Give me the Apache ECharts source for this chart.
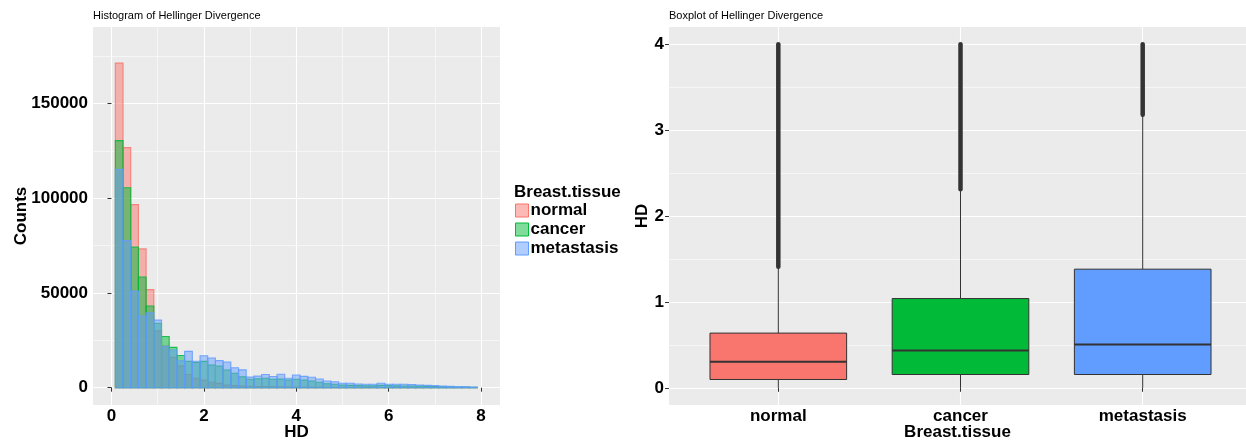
<!DOCTYPE html>
<html><head><meta charset="utf-8">
<script src="https://cdn.jsdelivr.net/npm/echarts@6/dist/echarts.min.js"></script>
<style>html,body{margin:0;padding:0;background:#fff}#c{width:1246px;height:440px}</style>
</head><body><div id="c"></div>
<script>
const histTitle = 'Histogram of Hellinger Divergence';
const boxTitle = 'Boxplot of Hellinger Divergence';
const legendTitle = 'Breast.tissue';
const groups = ['normal', 'cancer', 'metastasis'];
const groupColors = ['#F8766D', '#00BA38', '#619CFF'];

const binWidth = 1 / 6;
const binCenters = [0.1667, 0.3333, 0.5, 0.6667, 0.8333, 1, 1.1667, 1.3333, 1.5, 1.6667,
  1.8333, 2, 2.1667, 2.3333, 2.5, 2.6667, 2.8333, 3, 3.1667, 3.3333,
  3.5, 3.6667, 3.8333, 4, 4.1667, 4.3333, 4.5, 4.6667, 4.8333, 5,
  5.1667, 5.3333, 5.5, 5.6667, 5.8333, 6, 6.1667, 6.3333, 6.5, 6.6667,
  6.8333, 7, 7.1667, 7.3333, 7.5, 7.6667, 7.8333];

const normalCounts = [171400, 126800, 96700, 73300, 51800, 30000, 22000, 16000, 11500, 7000,
  5000, 4000, 2900, 2300, 1400, 1100, 900, 750, 650, 550,
  500, 450, 400, 350, 300, 280, 250, 220, 200, 180,
  160, 150, 140, 130, 120, 110, 100, 90, 80, 70,
  60, 50, 45, 40, 35, 30, 25];
const cancerCounts = [130500, 105600, 74300, 58500, 43150, 34000, 27000, 21300, 17000, 14000,
  13300, 13900, 12000, 11460, 9350, 7600, 5800, 4440, 4700, 5000,
  4440, 4600, 4070, 4440, 4070, 3540, 2850, 2110, 1800, 1430,
  1250, 1070, 950, 950, 1250, 1070, 950, 900, 900, 850,
  700, 600, 500, 400, 350, 300, 200];
const metastasisCounts = [115400, 77700, 51100, 37900, 39500, 35700, 21900, 19900, 14200, 19200,
  14000, 16900, 15700, 14300, 13600, 10560, 9400, 5600, 6100, 6950,
  5900, 7080, 4960, 6700, 6000, 5490, 4600, 3540, 3170, 2320,
  2320, 1950, 1800, 1800, 2320, 1800, 1800, 1800, 1600, 1430,
  1250, 1070, 900, 700, 530, 530, 350];
const histCounts = [normalCounts, cancerCounts, metastasisCounts];

const histXTicks = [0, 2, 4, 6, 8];
const histXMinor = [1, 3, 5, 7];
const histYTicks = [0, 50000, 100000, 150000];
const histYMinor = [25000, 75000, 125000, 175000];

const boxPositions = [1, 2, 3];
const boxLower = [0, 0, 0];
const boxQ1 = [0.097, 0.155, 0.155];
const boxMedian = [0.303, 0.435, 0.505];
const boxQ3 = [0.637, 1.039, 1.381];
const boxUpper = [1.40, 2.30, 3.17];
const outlierMin = [1.41, 2.31, 3.18];
const outlierMax = [4.0, 4.0, 4.0];
const boxYTicks = [0, 1, 2, 3, 4];
const boxYMinor = [0.5, 1.5, 2.5, 3.5];

function hexA(hex, a) {
  const n = parseInt(hex.slice(1), 16);
  return 'rgba(' + (n >> 16 & 255) + ',' + (n >> 8 & 255) + ',' + (n & 255) + ',' + a + ')';
}

const FONT = 'Liberation Sans, Arial, sans-serif';
const bold17 = { fontFamily: FONT, fontSize: 17, fontWeight: 'bold', color: '#000' };
const GRID_BG = '#EBEBEB';

function majorAxis(extra) {
  return Object.assign({
    type: 'value',
    axisLine: { show: false },
    splitLine: { show: true, lineStyle: { color: '#fff', width: 1.1 } },
    nameLocation: 'middle',
    nameMoveOverlap: false,
    nameTextStyle: bold17
  }, extra);
}
function minorAxis(extra) {
  return Object.assign({
    type: 'value',
    axisLine: { show: false },
    splitLine: { show: true, lineStyle: { color: '#fff', width: 0.55 } }
  }, extra);
}

const histSeries = groups.map((g, gi) => ({
  type: 'custom',
  name: g,
  xAxisIndex: 0,
  yAxisIndex: 0,
  silent: true,
  encode: { x: [0, 1], y: 2 },
  data: binCenters.map((c, i) => [c - binWidth / 2, c + binWidth / 2, histCounts[gi][i]]),
  renderItem: function (params, api) {
    const p0 = api.coord([api.value(0), api.value(2)]);
    const p1 = api.coord([api.value(1), 0]);
    return {
      type: 'rect',
      shape: { x: p0[0], y: p0[1], width: p1[0] - p0[0], height: p1[1] - p0[1] },
      style: { fill: hexA(groupColors[gi], 0.5), stroke: hexA(groupColors[gi], 0.85), lineWidth: 1.1 }
    };
  }
}));

const boxSeries = {
  type: 'custom',
  name: 'box',
  xAxisIndex: 2,
  yAxisIndex: 2,
  silent: true,
  encode: { x: 0, y: [1, 2, 3, 4, 5, 6, 7] },
  data: boxPositions.map((p, i) => [p, boxLower[i], boxQ1[i], boxMedian[i], boxQ3[i], boxUpper[i], outlierMin[i], outlierMax[i], i]),
  renderItem: function (params, api) {
    const x = api.value(0);
    const gi = api.value(8);
    const half = api.size([1, 0])[0] * 0.375;
    const c = api.coord([x, 0])[0];
    const y = k => api.coord([x, api.value(k)])[1];
    const yl = y(1), yq1 = y(2), ym = y(3), yq3 = y(4), yu = y(5), yo0 = y(6), yo1 = y(7);
    const dark = '#333333';
    return {
      type: 'group',
      children: [
        { type: 'line', shape: { x1: c, y1: yl, x2: c, y2: yq1 }, style: { stroke: dark, lineWidth: 1 } },
        { type: 'line', shape: { x1: c, y1: yq3, x2: c, y2: yu }, style: { stroke: dark, lineWidth: 1 } },
        { type: 'line', shape: { x1: c, y1: yo0, x2: c, y2: yo1 }, style: { stroke: dark, lineWidth: 4.5, lineCap: 'round' } },
        { type: 'rect', shape: { x: c - half, y: yq3, width: 2 * half, height: yq1 - yq3 }, style: { fill: groupColors[gi], stroke: dark, lineWidth: 1 } },
        { type: 'line', shape: { x1: c - half, y1: ym, x2: c + half, y2: ym }, style: { stroke: dark, lineWidth: 2 } }
      ]
    };
  }
};

function majorTick(vals) { return { show: true, length: 4, lineStyle: { color: '#333', width: 1 }, customValues: vals }; }
function majorLabel(vals, margin, fmt) { return Object.assign({ margin: margin, customValues: vals, formatter: fmt || (v => String(v)) }, bold17); }
function hiddenTick(vals) { return { show: false, customValues: vals }; }
function hiddenLabel(vals) { return { show: false, customValues: vals }; }

const option = {
  animation: false,
  backgroundColor: '#fff',
  title: [
    { text: histTitle, left: 93, top: 10, padding: 0, textStyle: { fontFamily: FONT, fontSize: 11, fontWeight: 'normal', color: '#000' } },
    { text: boxTitle, left: 669, top: 10, padding: 0, textStyle: { fontFamily: FONT, fontSize: 11, fontWeight: 'normal', color: '#000' } },
    { text: legendTitle, left: 514, top: 184, padding: 0, textStyle: bold17 }
  ],
  legend: {
    orient: 'vertical',
    left: 515,
    top: 202,
    padding: 0,
    itemWidth: 13,
    itemHeight: 13,
    itemGap: 2,
    selectedMode: false,
    textStyle: Object.assign({ lineHeight: 15, padding: [0, 0, 0, -3] }, bold17),
    data: groups.map((g, i) => ({ name: g, icon: 'rect', itemStyle: { color: hexA(groupColors[i], 0.5), borderColor: groupColors[i], borderWidth: 1 } }))
  },
  grid: [
    { left: 93, top: 27, width: 407, height: 378, show: true, backgroundColor: GRID_BG, borderWidth: 0, containLabel: false, outerBoundsMode: 'none' },
    { left: 669, top: 27, width: 577, height: 378, show: true, backgroundColor: GRID_BG, borderWidth: 0, containLabel: false, outerBoundsMode: 'none' }
  ],
  xAxis: [
    majorAxis({ gridIndex: 0, min: -0.4, max: 8.41, position: 'bottom', name: 'HD', nameGap: 19,
      axisTick: majorTick(histXTicks), axisLabel: majorLabel(histXTicks, 3) }),
    minorAxis({ gridIndex: 0, min: -0.4, max: 8.41, position: 'top',
      axisTick: hiddenTick(histXMinor), axisLabel: hiddenLabel(histXMinor) }),
    majorAxis({ gridIndex: 1, min: 0.4, max: 3.567, position: 'bottom', name: 'Breast.tissue', nameGap: 19,
      axisTick: majorTick(boxPositions), axisLabel: majorLabel(boxPositions, 3, v => groups[Math.round(v) - 1]) })
  ],
  yAxis: [
    majorAxis({ gridIndex: 0, min: -9140, max: 190500, position: 'left', name: 'Counts', nameGap: 63,
      axisTick: majorTick(histYTicks), axisLabel: majorLabel(histYTicks, 5) }),
    minorAxis({ gridIndex: 0, min: -9140, max: 190500, position: 'right',
      axisTick: hiddenTick(histYMinor), axisLabel: hiddenLabel(histYMinor) }),
    majorAxis({ gridIndex: 1, min: -0.2, max: 4.2, position: 'left', name: 'HD', nameGap: 18,
      axisTick: majorTick(boxYTicks), axisLabel: majorLabel(boxYTicks, 5) }),
    minorAxis({ gridIndex: 1, min: -0.2, max: 4.2, position: 'right',
      axisTick: hiddenTick(boxYMinor), axisLabel: hiddenLabel(boxYMinor) })
  ],
  series: histSeries.concat([boxSeries])
};

const chart = echarts.init(document.getElementById('c'), null, { renderer: 'canvas' });
chart.setOption(option);
</script>
</body></html>
